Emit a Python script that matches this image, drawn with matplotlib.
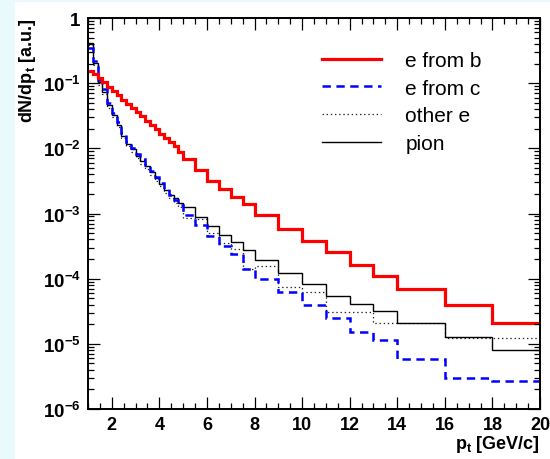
import numpy as np
import matplotlib
matplotlib.use("Agg")
import matplotlib.pyplot as plt
from matplotlib.ticker import MultipleLocator, FixedLocator, FuncFormatter, NullFormatter
from matplotlib.lines import Line2D
from matplotlib.patches import Rectangle

plt.rcParams['font.family'] = ['Liberation Sans', 'DejaVu Sans']
plt.rcParams['mathtext.fontset'] = 'custom'
plt.rcParams['mathtext.rm'] = 'Liberation Sans:bold'
plt.rcParams['mathtext.bf'] = 'Liberation Sans:bold'
plt.rcParams['mathtext.default'] = 'rm'
plt.rcParams['lines.scale_dashes'] = False

# bin edges in p_t [GeV/c]
edges = [1.0, 1.2, 1.4, 1.6, 1.8, 2.0, 2.2, 2.4, 2.6, 2.8, 3.0,
         3.2, 3.4, 3.6, 3.8, 4.0, 4.2, 4.4, 4.6, 4.8, 5.0,
         5.5, 6.0, 6.5, 7.0, 7.5, 8.0,
         9.0, 10.0, 11.0, 12.0, 13.0, 14.0,
         16.0, 18.0, 20.0]

e_from_b = [0.155, 0.138, 0.119, 0.103, 0.0873, 0.0758, 0.0658, 0.0557, 0.0479, 0.0411,
            0.0357, 0.0310, 0.0266, 0.0228, 0.0198, 0.0166, 0.0143, 0.0124, 0.0108, 0.0089,
            6.9e-3, 4.6e-3, 3.2e-3, 2.35e-3, 1.8e-3, 1.4e-3,
            9.5e-4, 5.78e-4, 3.72e-4, 2.59e-4, 1.62e-4, 1.11e-4,
            6.95e-5, 3.94e-5, 2.07e-5]

e_from_c = [0.35, 0.22, 0.11, 0.08, 0.05, 0.035, 0.025, 0.017, 0.0125, 0.0102,
            0.0081, 0.0068, 0.0056, 0.0045, 0.0036, 0.0029, 0.0024, 0.0019, 0.0016, 0.00135,
            9.5e-4, 6.7e-4, 4.5e-4, 3.2e-4, 2.4e-4, 1.4e-4,
            1.0e-4, 6.2e-5, 3.97e-5, 2.46e-5, 1.54e-5, 1.15e-5,
            5.9e-6, 2.96e-6, 2.72e-6]

other_e = [0.38, 0.19, 0.095, 0.068, 0.042, 0.030, 0.021, 0.0145, 0.0108, 0.0088,
           0.0070, 0.0058, 0.0048, 0.0039, 0.0031, 0.0026, 0.0021, 0.0017, 0.00145, 0.00125,
           8.6e-4, 8.2e-4, 5.1e-4, 3.5e-4, 2.85e-4, 1.4e-4,
           1.55e-4, 7.4e-5, 6.2e-5, 3.05e-5, 3.05e-5, 2.07e-5,
           2.07e-5, 1.22e-5, 1.22e-5]

pion = [0.41, 0.204, 0.104, 0.074, 0.046, 0.0325, 0.0228, 0.0156, 0.0117, 0.0098,
        0.0077, 0.00646, 0.0053, 0.00428, 0.00347, 0.00284, 0.00232, 0.00195, 0.0017, 0.00145,
        1.24e-3, 8.7e-4, 6.5e-4, 4.7e-4, 3.6e-4, 2.8e-4,
        1.95e-4, 1.22e-4, 8.3e-5, 5.5e-5, 4.1e-5, 3.15e-5,
        2.08e-5, 1.29e-5, 8.1e-6]

labels = ["e from b", "e from c", "other e", "pion"]
x_major = [2, 4, 6, 8, 10, 12, 14, 16, 18, 20]
y_major = [1e-6, 1e-5, 1e-4, 1e-3, 1e-2, 1e-1, 1]

W, H = 550, 460
fig = plt.figure(figsize=(5.5, 4.6), dpi=100)
fig.patch.set_facecolor('white')
fig.patches.append(Rectangle((0, 0), 15 / W, 1, transform=fig.transFigure,
                             facecolor='#eaf9fd', edgecolor='none', zorder=-10))
fig.patches.append(Rectangle((0, 1 - 3 / H), 1, 3 / H, transform=fig.transFigure,
                             facecolor='#eaf9fd', edgecolor='none', zorder=-10))

ax = fig.add_axes([88 / W, 1 - 410 / H, (540 - 88) / W, (410 - 19) / H])
ax.set_yscale('log')
ax.set_xlim(1, 20)
ax.set_ylim(1e-6, 1)

ax.stairs(other_e, edges, color='#222222', lw=0.9, linestyle=(0, (1, 2)), baseline=None)
ax.stairs(pion, edges, color='black', lw=1.0, baseline=None)
sc = ax.stairs(e_from_c, edges, color='#0000ff', lw=1.8, baseline=None)
sc.set_linestyle((0, (6, 4)))
ax.stairs(e_from_b, edges, color='#ff0000', lw=2.3, baseline=None)

for s in ax.spines.values():
    s.set_linewidth(1.4)

ax.xaxis.set_major_locator(FixedLocator(x_major))
ax.xaxis.set_minor_locator(MultipleLocator(0.5))
ax.yaxis.set_major_locator(FixedLocator(y_major))
minors = [m * 10.0 ** e for e in range(-6, 0) for m in range(2, 10)]
ax.yaxis.set_minor_locator(FixedLocator(minors))
ax.yaxis.set_minor_formatter(NullFormatter())

def yfmt(v, pos):
    e = int(round(np.log10(v)))
    if e == 0:
        return r'$1$'
    return r'$10^{%d}$' % e

ax.yaxis.set_major_formatter(FuncFormatter(yfmt))
ax.tick_params(which='both', direction='in', top=True, right=True, width=0.9)
ax.tick_params(which='major', length=8.5)
ax.tick_params(which='minor', length=4.3)
ax.tick_params(axis='y', which='major', pad=5, labelsize=13.5)
ax.tick_params(axis='x', which='major', pad=5, labelsize=13)
for lab in ax.get_xticklabels():
    lab.set_fontweight('bold')

fig.text(540 / W, 1 - 445 / H, r'$p_t$ [GeV/c]', ha='right', va='center',
         fontsize=13, fontweight='bold')
fig.text(28 / W, 1 - 18 / H, r'dN/d$p_t$ [a.u.]', ha='center', va='top',
         rotation=90, fontsize=13, fontweight='bold')

handles = [Line2D([], [], color='#ff0000', lw=2.3),
           Line2D([], [], color='#0000ff', lw=1.8, linestyle=(0, (6, 4))),
           Line2D([], [], color='#222222', lw=0.9, linestyle=(0, (1, 2))),
           Line2D([], [], color='black', lw=1.0)]
leg = ax.legend(handles, labels, loc='upper left', frameon=False,
                bbox_to_anchor=(322 / W, 1 - 52 / H), bbox_transform=fig.transFigure,
                borderpad=0, borderaxespad=0, handlelength=2.85, handletextpad=1.15,
                labelspacing=0.42, prop={'size': 15})

fig.savefig('out.png', dpi=100, facecolor='white')
